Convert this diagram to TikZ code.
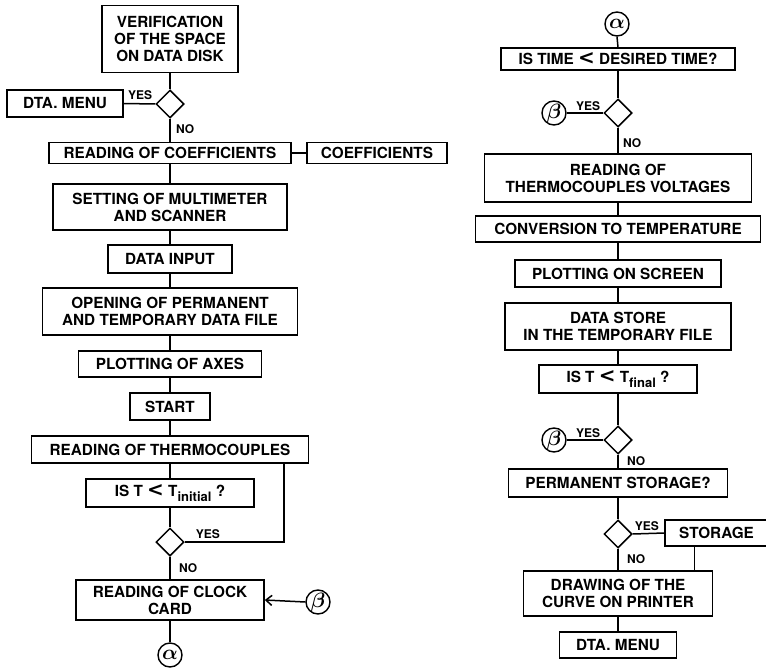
\documentclass[tikz,border=0pt]{standalone}
\usepackage{amsmath}
\usepackage{fontspec}
\setmainfont{TeX Gyre Heros}
\newfontfamily\symfont{DejaVu Sans}
\usetikzlibrary{shapes.geometric,arrows.meta}
\newcommand{\lt}{{\symfont\bfseries\fontsize{20}{15}\selectfont <}}
\newcommand{\subtx}[1]{\raisebox{-4.5pt}{\fontsize{13}{13}\selectfont #1}}
\begin{document}
\begin{tikzpicture}[x=1pt,y=-1pt,
  box/.style={draw, line width=1.5pt, inner sep=0pt, align=center, font=\bfseries\fontsize{15.3}{17}\selectfont},
  dec/.style={draw, diamond, line width=1.5pt, inner sep=0pt, minimum width=28pt, minimum height=28pt},
  conn/.style={draw, circle, line width=1.4pt, inner sep=0pt, minimum size=24pt, font=\fontsize{21}{21}\selectfont},
  lbl/.style={inner sep=1pt, font=\bfseries\fontsize{12}{12}\selectfont},
  wire/.style={line width=1.5pt},
  arr/.style={line width=1.5pt, -{Straight Barb[length=6pt,width=10pt]}},
]
\useasboundingbox (0,0) rectangle (766,669);

% ---------- left column ----------
\node[box, minimum width=136pt, minimum height=67pt] (ver) at (170,39) {VERIFICATION\\OF THE SPACE\\ON DATA DISK};
\node[dec] (d1) at (170,104) {};
\node[box, minimum width=116pt, minimum height=27pt] (dta1) at (65,103.5) {DTA. MENU};
\node[box, minimum width=242pt, minimum height=21pt] (coef) at (170,153) {READING OF COEFFICIENTS};
\node[box, minimum width=140pt, minimum height=21pt] (coefs) at (377,153) {COEFFICIENTS};
\node[box, minimum width=234pt, minimum height=46pt] (set) at (170,207) {SETTING OF MULTIMETER\\AND SCANNER};
\node[box, minimum width=124pt, minimum height=28pt] (din) at (170,259) {DATA INPUT};
\node[box, minimum width=255pt, minimum height=47pt] (open) at (170,311.5) {OPENING OF PERMANENT\\AND TEMPORARY DATA FILE};
\node[box, minimum width=183pt, minimum height=26pt] (axes) at (170,364) {PLOTTING OF AXES};
\node[box, minimum width=80pt, minimum height=27pt] (start) at (170,406.5) {START};
\node[box, minimum width=277pt, minimum height=27pt] (rth) at (170,449.5) {READING OF THERMOCOUPLES};
\node[box, minimum width=168pt, minimum height=28pt] (ist) at (170,493) {IS T \lt{} T\subtx{initial} ?};
\node[dec] (d2) at (170,542) {};
\node[box, minimum width=188pt, minimum height=40pt] (clk) at (170,600) {READING OF CLOCK\\CARD};
\node[conn] (a1) at (170,655) {$\boldsymbol{\alpha}$};
\node[conn] (b1) at (318,602) {$\boldsymbol{\beta}$};
\coordinate (loop) at (284,463);

\draw[wire] (ver.south) -- (d1.north);
\draw[wire] (d1.west) -- (dta1.east);
\node[lbl, anchor=south east] at ([xshift=-2pt,yshift=3pt]d1.west) {YES};
\draw[wire] (d1.south) -- (coef.north);
\node[lbl, anchor=north west] at ([xshift=5pt,yshift=-5pt]d1.south) {NO};
\draw[wire] (coef.east) -- (coefs.west);
\draw[wire] (coef.south) -- (set.north);
\draw[wire] (set.south) -- (din.north);
\draw[wire] (din.south) -- (open.north);
\draw[wire] (open.south) -- (axes.north);
\draw[wire] (axes.south) -- (start.north);
\draw[wire] (start.south) -- (rth.north);
\draw[wire] (rth.south) -- (ist.north);
\draw[wire] (ist.south) -- (d2.north);
\draw[wire] (d2.east) -| (loop);
\node[lbl, anchor=south west] at ([xshift=10pt,yshift=2pt]d2.east) {YES};
\draw[wire] (d2.south) -- (clk.north);
\node[lbl, anchor=north west] at ([xshift=8pt,yshift=-6pt]d2.south) {NO};
\draw[arr] (b1.west) -- (clk.east);
\draw[wire] (clk.south) -- (a1.north);

% ---------- right column ----------
\node[conn] (a2) at (617,24) {$\boldsymbol{\alpha}$};
\node[box, minimum width=234pt, minimum height=22pt] (itime) at (618,59) {IS TIME \lt{} DESIRED TIME?};
\node[dec] (d3) at (618,113) {};
\node[conn] (b2) at (554,113) {$\boldsymbol{\beta}$};
\node[box, minimum width=267pt, minimum height=48pt] (rtv) at (618,178) {READING OF\\THERMOCOUPLES VOLTAGES};
\node[box, minimum width=285pt, minimum height=26pt] (conv) at (618,229) {CONVERSION TO TEMPERATURE};
\node[box, minimum width=206pt, minimum height=27pt] (pos) at (618,273.5) {PLOTTING ON SCREEN};
\node[box, minimum width=226pt, minimum height=47pt] (dstore) at (618,326.5) {DATA STORE\\IN THE TEMPORARY FILE};
\node[box, minimum width=158pt, minimum height=28pt] (itf) at (618,379) {IS T \lt{} T\subtx{final} ?};
\node[dec] (d4) at (618,440) {};
\node[conn] (b3) at (554,440) {$\boldsymbol{\beta}$};
\node[box, minimum width=219pt, minimum height=28pt] (perm) at (618,483) {PERMANENT STORAGE?};
\node[dec] (d5) at (618,534) {};
\node[box, minimum width=103pt, minimum height=26pt] (stor) at (716.5,533) {STORAGE};
\node[box, minimum width=189pt, minimum height=45pt] (drw) at (618,593.5) {DRAWING OF THE\\CURVE ON PRINTER};
\node[box, minimum width=117pt, minimum height=26pt] (dta2) at (618,645) {DTA. MENU};

\draw[wire] (a2.south) -- (itime.north);
\draw[wire] (itime.south) -- (d3.north);
\draw[wire] (d3.west) -- (b2.east);
\node[lbl, anchor=south east] at ([xshift=-2pt,yshift=1pt]d3.west) {YES};
\draw[wire] (d3.south) -- (rtv.north);
\node[lbl, anchor=north west] at ([xshift=4pt,yshift=-10pt]d3.south) {NO};
\draw[wire] (rtv.south) -- (conv.north);
\draw[wire] (conv.south) -- (pos.north);
\draw[wire] (pos.south) -- (dstore.north);
\draw[wire] (dstore.south) -- (itf.north);
\draw[wire] (itf.south) -- (d4.north);
\draw[wire] (d4.west) -- (b3.east);
\node[lbl, anchor=south east] at ([xshift=-2pt,yshift=1pt]d4.west) {YES};
\draw[wire] (d4.south) -- (perm.north);
\node[lbl, anchor=north west] at ([xshift=8pt,yshift=-1pt]d4.south) {NO};
\draw[wire] (perm.south) -- (d5.north);
\draw[wire] (d5.east) -- (stor.west);
\node[lbl, anchor=south west] at ([xshift=1pt,yshift=2pt]d5.east) {YES};
\draw[wire] (d5.south) -- (drw.north);
\node[lbl, anchor=north west] at ([xshift=8pt,yshift=-5pt]d5.south) {NO};
\draw[wire] ([xshift=-22pt]stor.south) -- ([xshift=-22pt]stor.south |- drw.north);
\draw[wire] (drw.south) -- (dta2.north);
\end{tikzpicture}
\end{document}
